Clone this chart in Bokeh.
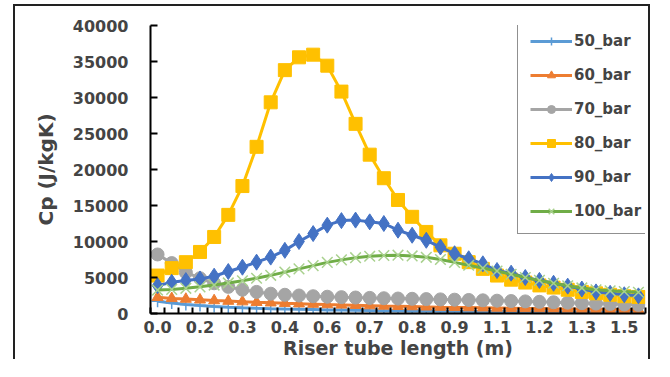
from bokeh.plotting import figure
from bokeh.models import Range1d, FixedTicker, Legend, LegendItem
from bokeh.embed import file_html
from bokeh.resources import INLINE

# category positions (35 points along the riser tube) and the shown tick labels
points = list(range(35))
tick_pos = [0, 3, 6, 9, 12, 15, 18, 21, 24, 27, 30, 33]
tick_labels = ["0.0", "0.2", "0.3", "0.4", "0.6", "0.7", "0.8", "0.9", "1.1", "1.2", "1.3", "1.5"]
y_ticks = [0, 5000, 10000, 15000, 20000, 25000, 30000, 35000, 40000]

cp_50 = [1700, 1450, 1250, 1100, 980, 880, 800, 730, 670, 620, 580, 540, 500, 470, 440,
         410, 390, 370, 350, 330, 310, 300, 290, 280, 270, 260, 250, 240, 230, 220,
         210, 200, 190, 180, 170]
cp_60 = [2250, 2100, 2000, 1900, 1800, 1720, 1640, 1560, 1490, 1420, 1360, 1300, 1240, 1190, 1140,
         1090, 1040, 1000, 960, 920, 880, 850, 820, 790, 760, 730, 700, 680, 660, 640,
         620, 600, 580, 570, 560]
cp_70 = [8200, 7000, 5700, 4900, 4200, 3700, 3300, 3000, 2750, 2600, 2500, 2400, 2330, 2270, 2220,
         2170, 2120, 2080, 2040, 2000, 1960, 1920, 1880, 1830, 1780, 1730, 1680, 1620, 1560, 1500,
         1440, 1380, 1320, 1260, 1200]
cp_80 = [5270, 6300, 7130, 8550, 10630, 13700, 17700, 23150, 29330, 33800, 35580, 35950, 34420, 30820, 26340,
         22060, 18790, 15770, 13430, 11330, 9470, 8300, 7130, 6200, 5270, 4700, 4300, 3900, 3600, 3300,
         3000, 2800, 2600, 2400, 2300]
cp_90 = [3870, 4340, 4570, 4800, 5180, 5830, 6430, 7130, 7830, 8770, 10000, 11100, 12270, 12900, 12970,
         12730, 12500, 11570, 10870, 10170, 9230, 8300, 7600, 6900, 5970, 5600, 5000, 4600, 4200, 3800,
         3400, 3000, 2800, 2600, 2450]
cp_100 = [3250, 3350, 3500, 3700, 3950, 4250, 4550, 4900, 5300, 5750, 6200, 6650, 7100, 7450, 7750,
          7950, 8050, 8100, 8000, 7800, 7500, 7100, 6700, 6300, 5900, 5450, 5000, 4600, 4200, 3850,
          3550, 3300, 3150, 3050, 2950]

FONT = "DejaVu Sans"

p = figure(width=637, height=355, output_backend="svg", toolbar_location=None,
           x_range=Range1d(-0.5, 34.5), y_range=Range1d(0, 40000),
           min_border_left=135, min_border_right=7, min_border_top=19, min_border_bottom=48)
# outer chart border: left, top and right edges (the bottom lies beyond the picture)
p.styles = {"margin-left": "13px", "margin-top": "4px",
            "border-top": "2px solid #222", "border-left": "2px solid #222",
            "border-right": "2px solid #222"}
p.outline_line_color = None
p.xgrid.visible = False
p.ygrid.visible = False

series = [
    ("50_bar", cp_50, "#5B9BD5", "cross", 12),
    ("60_bar", cp_60, "#ED7D31", "triangle", 11),
    ("70_bar", cp_70, "#A5A5A5", "circle", 13),
    ("80_bar", cp_80, "#FFC000", "square", 13),
    ("90_bar", cp_90, "#4472C4", "diamond", 16),
    ("100_bar", cp_100, "#70AD47", "x", 15),
]

items = []
for name, vals, col, marker, size in series:
    ln = p.line(points, vals, line_color=col, line_width=3)
    if marker == "x":
        sc = p.scatter(points, vals, marker="x", size=size, line_color="#A9D18E", line_width=1.5)
    elif marker == "cross":
        sc = p.scatter(points, vals, marker="cross", size=size, line_color=col, line_width=1.5)
    else:
        sc = p.scatter(points, vals, marker=marker, size=size, fill_color=col, line_color=col)
    items.append(LegendItem(label=name, renderers=[ln, sc]))

legend = Legend(items=items, location=(367, 79), glyph_width=42, glyph_height=20, spacing=14,
                padding=12, margin=0, label_standoff=2,
                label_text_font=FONT, label_text_font_style="bold", label_text_font_size="15px",
                border_line_color="#222", border_line_width=1, background_fill_alpha=1)
p.add_layout(legend)

# y axis
ya = p.yaxis[0]
ya.ticker = FixedTicker(ticks=y_ticks)
ya.axis_line_color = "black"
ya.axis_line_width = 2
ya.major_tick_in = 7
ya.major_tick_out = 0
ya.major_tick_line_width = 2
ya.minor_tick_line_color = None
ya.major_label_standoff = 22
ya.major_label_text_font = FONT
ya.major_label_text_font_style = "bold"
ya.major_label_text_font_size = "16px"
ya.axis_label = "Cp (J/kgK)"
ya.axis_label_text_font = FONT
ya.axis_label_text_font_style = "bold"
ya.axis_label_text_font_size = "20px"
ya.axis_label_standoff = 12

# x axis
xa = p.xaxis[0]
xa.ticker = FixedTicker(ticks=tick_pos, minor_ticks=[i - 0.5 for i in range(36)])
xa.major_label_overrides = {pos: lab for pos, lab in zip(tick_pos, tick_labels)}
xa.axis_line_color = "black"
xa.axis_line_width = 2
xa.major_tick_line_color = None
xa.major_tick_in = 0
xa.major_tick_out = 0
xa.minor_tick_in = 6
xa.minor_tick_out = 0
xa.minor_tick_line_width = 2
xa.minor_tick_line_color = "black"
xa.major_label_standoff = 7
xa.major_label_text_font = FONT
xa.major_label_text_font_style = "bold"
xa.major_label_text_font_size = "16px"
xa.axis_label = "Riser tube length (m)"
xa.axis_label_text_font = FONT
xa.axis_label_text_font_style = "bold"
xa.axis_label_text_font_size = "19px"
xa.axis_label_standoff = 1

open("out.html", "w").write(file_html(p, INLINE))
